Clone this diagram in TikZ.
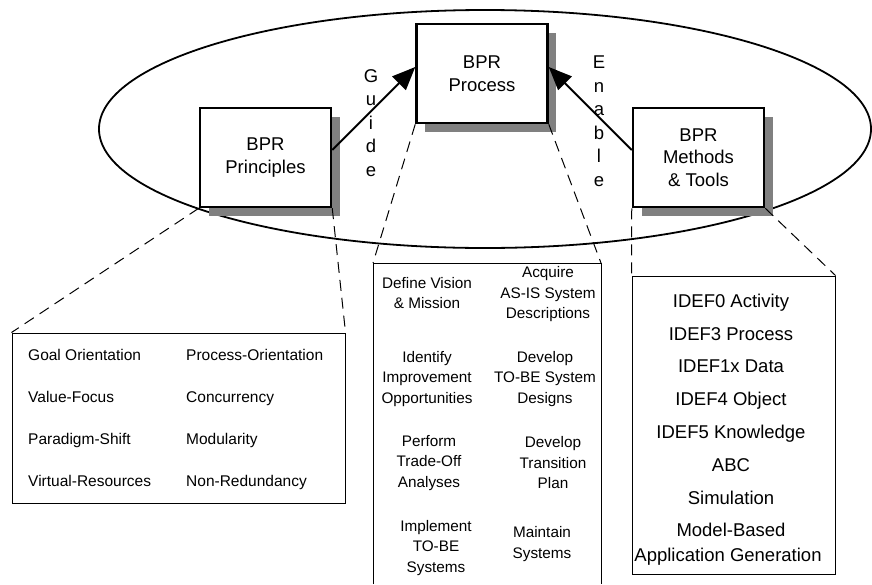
\documentclass[tikz,border=0pt]{standalone}
\usepackage{fontspec}
\setmainfont{Liberation Sans}
\usetikzlibrary{arrows.meta,shadows}
\definecolor{shadowgray}{RGB}{128,128,128}
\begin{document}
\begin{tikzpicture}[x=1pt,y=-1pt,
  mainbox/.style={draw, line width=2.5pt, fill=white, minimum width=131pt, minimum height=99pt,
    inner sep=0pt, align=center, font=\fontsize{18.5}{22.5}\selectfont,
    drop shadow={shadow xshift=8.5pt, shadow yshift=-9pt, fill=shadowgray, opacity=1}},
  lowbox/.style={draw, line width=1pt, inner sep=0pt},
  thinline/.style={line width=1pt},
  linkarrow/.style={line width=2pt, -{Triangle[length=23pt,width=19pt]}},
  zoomline/.style={line width=1pt, dash pattern=on 11pt off 7pt},
  vlabel/.style={align=center, font=\fontsize{18.5}{23.5}\selectfont, inner sep=0pt},
  ltext/.style={anchor=base west, inner sep=0pt, font=\fontsize{15.5}{19}\selectfont},
  mtext/.style={align=center, inner sep=0pt, font=\fontsize{15.3}{20.5}\selectfont},
  rtext/.style={anchor=base, inner sep=0pt, font=\fontsize{18.5}{24}\selectfont}]
\useasboundingbox (0,0) rectangle (872,584);

% big ellipse
\draw[line width=1.8pt] (485,129) ellipse [x radius=386, y radius=119];

% main boxes
\node[mainbox] (pr) at (265.5,157.5) {BPR\\Principles};
\node[mainbox] (pc) at (482,73.5) {BPR\\Process};
\node[mainbox] (mt) at (698.5,157.5) {BPR\\Methods\\\& Tools};

% arrows
\draw[linkarrow] ([yshift=7.5pt]pr.east) -- ([yshift=6.5pt]pc.west);
\draw[linkarrow] ([yshift=7.5pt]mt.west) -- ([yshift=6.5pt]pc.east);

% vertical labels
\node[vlabel] (guide) at (371,123) {G\\u\\i\\d\\e};
\node[vlabel] (enable) at (599,121) {E\\n\\a\\b\\l\\e};

% lower boxes
\node[lowbox, minimum width=333pt, minimum height=170pt] (lb) at (178.5,418) {};
\coordinate (mbnw) at (373,263);
\coordinate (mbne) at (601,263);
\coordinate (mbsw) at (373,584);
\coordinate (mbse) at (601,584);
\draw[thinline] (mbsw) -- (mbnw) -- (mbne) -- (mbse);
\node[lowbox, minimum width=203pt, minimum height=298pt] (rb) at (733.5,425) {};

% dashed zoom lines
\draw[zoomline] (pr.south west) -- (lb.north west);
\draw[zoomline] (pr.south east) -- (lb.north east);
\draw[zoomline] (pc.south west) -- (mbnw);
\draw[zoomline] (pc.south east) -- (mbne);
\draw[zoomline] (mt.south west) -- (rb.north west);
\draw[zoomline] (mt.south east) -- (rb.north east);

% left box texts
\node[ltext] (l1) at (28,360) {Goal Orientation};
\node[ltext] (l2) at (28,402) {Value-Focus};
\node[ltext] (l3) at (28,444) {Paradigm-Shift};
\node[ltext] (l4) at (28,486) {Virtual-Resources};
\node[ltext] (r1) at (186,360) {Process-Orientation};
\node[ltext] (r2) at (186,402) {Concurrency};
\node[ltext] (r3) at (186,444) {Modularity};
\node[ltext] (r4) at (186,486) {Non-Redundancy};

% middle box texts
\node[mtext] (m1) at (427,293) {Define Vision\\\& Mission};
\node[mtext] (m2) at (548,294.5) {Acquire\\AS-IS System\\Descriptions};
\node[mtext] (m3) at (427,379) {Identify\\Improvement\\Opportunities};
\node[mtext] (m4) at (545,379) {Develop\\TO-BE System\\Designs};
\node[mtext] (m5) at (429,463) {Perform\\Trade-Off\\Analyses};
\node[mtext] (m6) at (553,463) {Develop\\Transition\\Plan};
\node[mtext] (m7) at (436,548) {Implement\\TO-BE\\Systems};
\node[mtext] (m8) at (542,544) {Maintain\\Systems};

% right box texts
\node[rtext] (t1) at (731,307.5) {IDEF0 Activity};
\node[rtext] (t2) at (731,340) {IDEF3 Process};
\node[rtext] (t3) at (731,372.5) {IDEF1x Data};
\node[rtext] (t4) at (731,405) {IDEF4 Object};
\node[rtext] (t5) at (731,438) {IDEF5 Knowledge};
\node[rtext] (t6) at (731,471.5) {ABC};
\node[rtext] (t7) at (731,504) {Simulation};
\node[rtext] (t8) at (731,536.5) {Model-Based};
\node[rtext] (t9) at (728,561) {Application Generation};
\end{tikzpicture}
\end{document}
